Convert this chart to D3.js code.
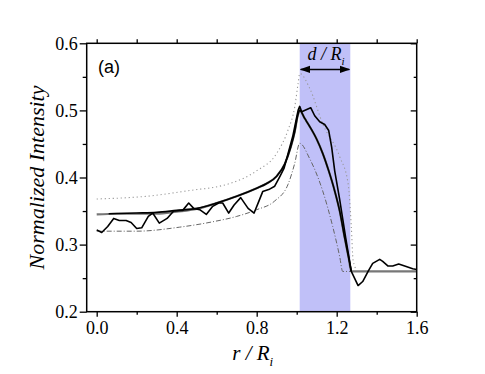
<!DOCTYPE html>
<html>
<head>
<meta charset="utf-8">
<script src="https://cdn.jsdelivr.net/npm/d3@7/dist/d3.min.js"></script>
<style>
  body { margin: 0; background: #fff; }
  .tick text { font-family: "Liberation Serif", "Times New Roman", serif; font-size: 18px; fill: #000; }
  .domain { display: none; }
</style>
</head>
<body>
<div id="chart"></div>
<script>
// values: [r/Ri, intensity]
var measured = [[0,0.322],[0.025,0.318],[0.055,0.327],[0.085,0.339],[0.113,0.336],[0.147,0.336],
  [0.172,0.333],[0.2,0.324],[0.225,0.325],[0.258,0.342],[0.28,0.347],[0.313,0.332],[0.352,0.339],
  [0.385,0.35],[0.43,0.351],[0.46,0.362],[0.485,0.354],[0.515,0.352],[0.548,0.345],[0.58,0.357],
  [0.61,0.362],[0.63,0.362],[0.66,0.347],[0.687,0.359],[0.72,0.37],[0.757,0.354],[0.787,0.347],
  [0.81,0.364],[0.83,0.379],[0.86,0.382],[0.89,0.387],[0.915,0.401],[0.937,0.414],[0.957,0.436],
  [0.98,0.461],[1.007,0.5],[1.015,0.506],[1.025,0.498],[1.07,0.504],[1.09,0.492],[1.115,0.483],
  [1.14,0.479],[1.16,0.47],[1.175,0.445],[1.19,0.41],[1.215,0.367],[1.245,0.31],[1.273,0.26],
  [1.307,0.239],[1.33,0.245],[1.357,0.26],[1.38,0.272],[1.415,0.278],[1.43,0.275],[1.457,0.268],
  [1.48,0.268],[1.51,0.271],[1.54,0.268],[1.58,0.264],[1.6,0.263]];
var model = [[0.06,0.346],[0.2,0.347],[0.3,0.348],[0.4,0.351],[0.5,0.354],[0.6,0.362],[0.7,0.372],
  [0.8,0.384],[0.85,0.391],[0.9,0.402],[0.94,0.42],[0.97,0.445],[0.99,0.468],[1.005,0.492],
  [1.015,0.5],[1.04,0.488],[1.065,0.476],[1.1,0.457],[1.13,0.436],[1.16,0.41],[1.19,0.38],
  [1.215,0.35],[1.24,0.31],[1.26,0.28],[1.273,0.26]];
var modelGray = [[0,0.345],[0.1,0.346],[0.2,0.346],[0.3,0.346],[0.4,0.349],[0.5,0.353],[0.6,0.362],
  [0.7,0.372],[0.8,0.384],[0.85,0.391],[0.9,0.402],[0.94,0.42],[0.97,0.445],[0.99,0.468],
  [1.005,0.492],[1.015,0.5],[1.04,0.488],[1.065,0.476],[1.1,0.457],[1.13,0.436],[1.16,0.41],
  [1.19,0.38],[1.215,0.35],[1.24,0.31],[1.26,0.28],[1.273,0.26],[1.6,0.26]];
var upper = [[0,0.368],[0.25,0.372],[0.5,0.382],[0.58,0.385],[0.665,0.391],[0.8,0.41],[0.9,0.436],
  [0.957,0.471],[0.99,0.505],[1.007,0.54],[1.015,0.555],[1.065,0.533],[1.13,0.48],[1.215,0.431],
  [1.257,0.391],[1.273,0.327],[1.282,0.277],[1.3,0.262]];
var lower = [[0,0.32],[0.2,0.32],[0.415,0.326],[0.58,0.334],[0.7,0.342],[0.8,0.352],[0.89,0.365],
  [0.957,0.39],[0.99,0.421],[1.015,0.451],[1.065,0.428],[1.13,0.38],[1.18,0.327],[1.215,0.282],
  [1.23,0.26],[1.27,0.26]];
var shell = [1.015, 1.268];   // d / Ri band
var arrowY = 0.561;
var xMajor = [0, 0.4, 0.8, 1.2, 1.6];
var xMinor = [0.2, 0.6, 1.0, 1.4];
var yMajor = [0.2, 0.3, 0.4, 0.5, 0.6];
var yMinor = [0.25, 0.35, 0.45, 0.55];

var width = 485, height = 374;
var pLeft = 86.7, pRight = 416.7, pTop = 43.3, pBottom = 311.7;

var svg = d3.select("#chart").append("svg")
  .attr("width", width).attr("height", height);

var x = d3.scaleLinear().domain([-0.05, 1.6]).range([pLeft, pRight]);
var y = d3.scaleLinear().domain([0.2, 0.6]).range([pBottom, pTop]);

svg.append("rect")
  .attr("x", x(shell[0])).attr("y", pTop)
  .attr("width", x(shell[1]) - x(shell[0])).attr("height", pBottom - pTop)
  .style("fill", "#c0c0f8");

var line = d3.line().x(function(d){ return x(d[0]); }).y(function(d){ return y(d[1]); });
var smooth = d3.line().curve(d3.curveMonotoneX)
  .x(function(d){ return x(d[0]); }).y(function(d){ return y(d[1]); });

svg.append("path").attr("d", smooth(upper))
  .style("fill", "none").style("stroke", "#999").style("stroke-width", 1.1)
  .style("stroke-dasharray", "1.2,2.8");
svg.append("path").attr("d", smooth(lower))
  .style("fill", "none").style("stroke", "#666").style("stroke-width", 1)
  .style("stroke-dasharray", "5,2,1,2");
svg.append("path").attr("d", smooth(modelGray))
  .style("fill", "none").style("stroke", "#777").style("stroke-width", 2.2);
svg.append("path").attr("d", smooth(model))
  .style("fill", "none").style("stroke", "#000").style("stroke-width", 1.6);
svg.append("path").attr("d", line(measured))
  .style("fill", "none").style("stroke", "#000").style("stroke-width", 1.6)
  .style("stroke-linejoin", "round");

// frame
svg.append("rect")
  .attr("x", pLeft).attr("y", pTop).attr("width", pRight - pLeft).attr("height", pBottom - pTop)
  .style("fill", "none").style("stroke", "#000").style("stroke-width", 1.5);

function addAxis(axis, tx, ty){
  svg.append("g").attr("transform", "translate(" + tx + "," + ty + ")").call(axis)
    .selectAll("line").style("stroke", "#000").style("stroke-width", 1.3);
}
var fmt = d3.format(".1f");
addAxis(d3.axisBottom(x).tickValues(xMajor).tickFormat(fmt).tickSize(5).tickPadding(5).tickSizeOuter(0), 0, pBottom);
addAxis(d3.axisBottom(x).tickValues(xMinor).tickFormat("").tickSize(3).tickSizeOuter(0), 0, pBottom);
addAxis(d3.axisBottom(x).tickValues(xMajor.concat(xMinor)).tickFormat("").tickSize(-4).tickSizeOuter(0), 0, pTop);
addAxis(d3.axisLeft(y).tickValues(yMajor).tickFormat(fmt).tickSize(7).tickPadding(2).tickSizeOuter(0), pLeft, 0);
addAxis(d3.axisLeft(y).tickValues(yMinor).tickFormat("").tickSize(4).tickSizeOuter(0), pLeft, 0);
addAxis(d3.axisRight(y).tickValues(yMajor).tickFormat("").tickSize(-6).tickSizeOuter(0), pRight, 0);
addAxis(d3.axisRight(y).tickValues(yMinor).tickFormat("").tickSize(-3).tickSizeOuter(0), pRight, 0);

// d / Ri arrow
var defs = svg.append("defs");
defs.append("marker").attr("id", "ah").attr("viewBox", "0 0 10 10")
  .attr("refX", 9).attr("refY", 5).attr("markerWidth", 7).attr("markerHeight", 7)
  .attr("orient", "auto-start-reverse")
  .append("path").attr("d", "M0,1.5 L10,5 L0,8.5 Z").style("fill", "#000");
svg.append("line")
  .attr("x1", x(shell[0]) + 1).attr("x2", x(shell[1]) - 1)
  .attr("y1", y(arrowY)).attr("y2", y(arrowY))
  .style("stroke", "#000").style("stroke-width", 1.5)
  .attr("marker-start", "url(#ah)").attr("marker-end", "url(#ah)");

var serif = "'Liberation Serif', 'Times New Roman', serif";
var dl = svg.append("text").attr("x", (x(shell[0]) + x(shell[1])) / 2 + 1).attr("y", y(arrowY) - 9)
  .attr("text-anchor", "middle").style("font-family", serif).style("font-style", "italic")
  .style("font-size", "18px");
dl.append("tspan").text("d / R");
dl.append("tspan").attr("dy", 5).style("font-size", "11px").text("i");

svg.append("text").attr("x", 98).attr("y", 73)
  .style("font-family", "'Liberation Sans', Arial, sans-serif").style("font-size", "18px")
  .text("(a)");

var xl = svg.append("text").attr("x", (pLeft + pRight) / 2 + 1).attr("y", 360)
  .attr("text-anchor", "middle").style("font-family", serif).style("font-style", "italic")
  .style("font-size", "21px");
xl.append("tspan").text("r / R");
xl.append("tspan").attr("dy", 6).style("font-size", "13px").text("i");

svg.append("text")
  .attr("transform", "translate(44," + ((pTop + pBottom) / 2) + ") rotate(-90)")
  .attr("text-anchor", "middle").style("font-family", serif).style("font-style", "italic")
  .style("font-size", "22px")
  .text("Normalized Intensity");
</script>
</body>
</html>
